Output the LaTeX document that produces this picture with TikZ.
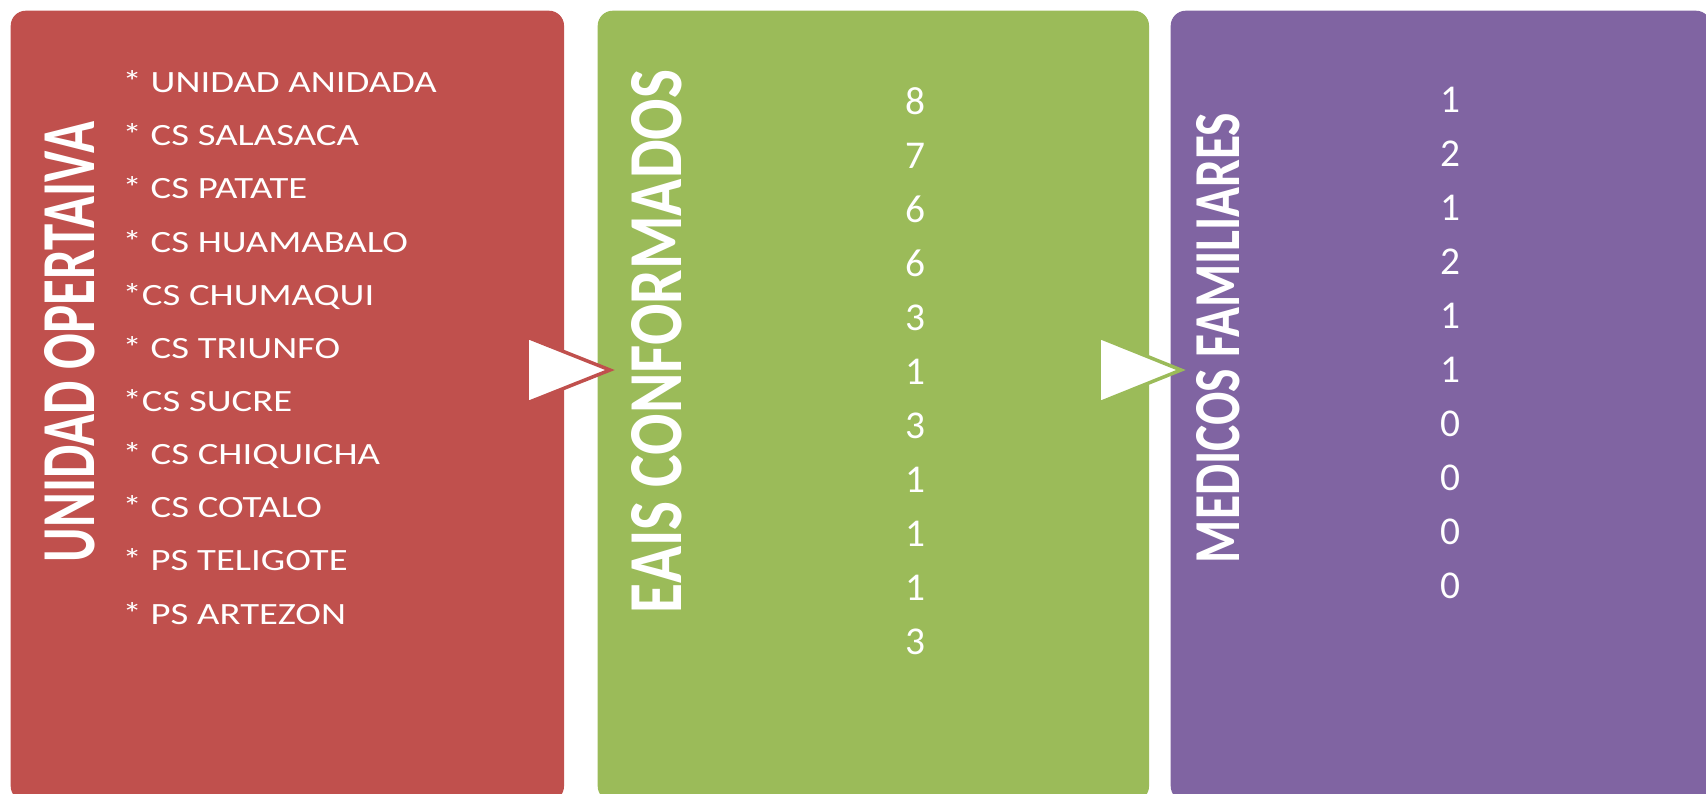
\documentclass[tikz,border=0pt]{standalone}
\usepackage{fontspec}
\usepackage{graphicx}
\setmainfont{Carlito}
\newfontfamily\listafont[FakeStretch=1.25]{Carlito}
\definecolor{rojo}{HTML}{C0504D}
\definecolor{verde}{HTML}{9BBB59}
\definecolor{morado}{HTML}{8064A2}
\tikzset{
  panel/.style={rectangle, rounded corners=0.15cm, inner sep=0pt,
    minimum height=7.9cm, anchor=north west, fill=#1},
  titulo/.style={rotate=90, inner sep=0pt, text=white},
  lista/.style={align=left, inner sep=0pt, text=white, anchor=north west,
    font=\listafont\fontsize{8.8}{15.11}\selectfont},
  cifras/.style={align=center, inner sep=0pt, text=white, anchor=north,
    font=\fontsize{11.2}{15.36}\selectfont},
  flecha/.style={fill=white, draw=#1, line width=1pt, line join=miter}
}
\begin{document}
\begin{tikzpicture}[x=0.01cm, y=-0.01cm]
  \useasboundingbox (0,0) rectangle (1706,793);
  \clip (0,0) rectangle (1706,793);
  % panels
  \node[panel=rojo, minimum width=5.53cm] (unidad) at (10,10) {};
  \node[panel=verde, minimum width=5.51cm] (eais) at (597,10) {};
  \node[panel=morado, minimum width=5.40cm] (medicos) at (1170,10) {};
  % titles
  \node[titulo] (t1) at (70,342) {\resizebox{4.4cm}{0.5cm}{\bfseries UNIDAD OPERTAIVA}};
  \node[titulo] (t2) at (657,341.5) {\resizebox{5.43cm}{0.5cm}{\bfseries EAIS CONFORMADOS}};
  \node[titulo] (t3) at (1218.5,338) {\resizebox{4.5cm}{0.43cm}{\bfseries MEDICOS FAMILIARES}};
  % contents
  \node[lista] (l1) at (122,70) {* UNIDAD ANIDADA\\ * CS SALASACA\\ * CS PATATE\\
    * CS HUAMABALO\\ *CS CHUMAQUI\\ * CS TRIUNFO\\ *CS SUCRE\\ * CS CHIQUICHA\\
    * CS COTALO\\ * PS TELIGOTE\\ * PS ARTEZON};
  \node[cifras] (l2) at (915,86.5) {8\\ 7\\ 6\\ 6\\ 3\\ 1\\ 3\\ 1\\ 1\\ 1\\ 3};
  \node[cifras] (l3) at (1450,86.5) {1\\ 2\\ 1\\ 2\\ 1\\ 1\\ 0\\ 0\\ 0\\ 0};
  % arrows
  \filldraw[flecha=rojo] (527,337) -- (610,370) -- (527,403) -- cycle;
  \filldraw[flecha=verde] (1099,337) -- (1181,370) -- (1099,403) -- cycle;
\end{tikzpicture}
\end{document}
